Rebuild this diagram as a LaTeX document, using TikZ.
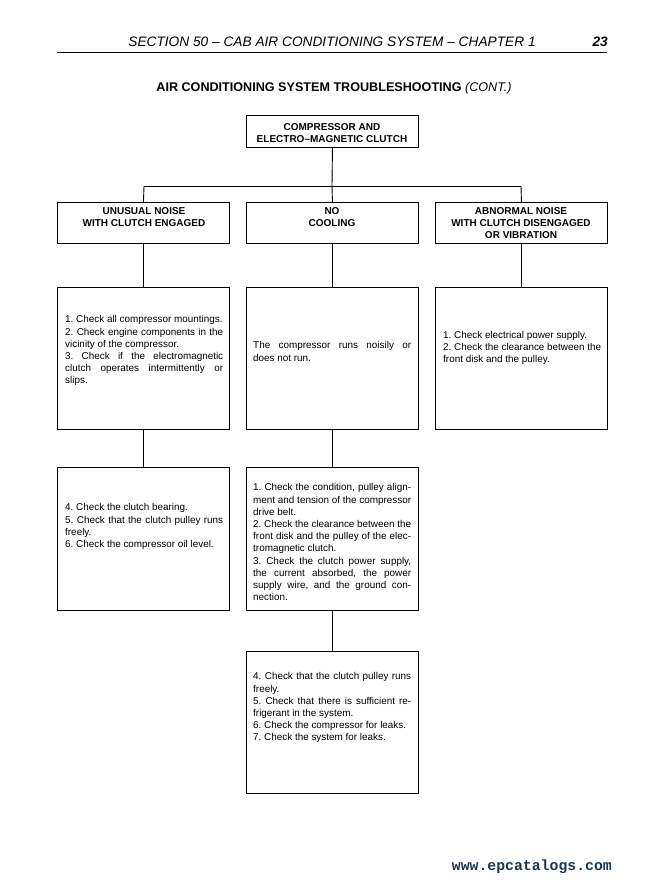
\documentclass[tikz,border=0pt]{standalone}
\usepackage{fontspec}
\setmainfont{Liberation Sans}
\setmonofont{Liberation Mono}
\definecolor{footblue}{HTML}{1B3556}
\begin{document}
\frenchspacing
\begin{tikzpicture}[x=1pt,y=-1pt,
  box/.style={draw, line width=0.9pt, inner sep=0pt, anchor=north west, minimum width=172pt},
  headtxt/.style={font=\fontsize{10}{12}\selectfont\bfseries, align=center, inner sep=0pt, anchor=north},
  bodytxt/.style={font=\fontsize{9.9}{12.2}\selectfont\frenchspacing, text width=158pt, align=justify, inner sep=0pt, anchor=north west},
  conn/.style={line width=0.9pt}]
\useasboundingbox (0,0) rectangle (663,882);
% page header
\node[font=\fontsize{13.7}{16}\selectfont\itshape, inner sep=0pt, anchor=base] (sec) at (332,47) {SECTION 50 – CAB AIR CONDITIONING SYSTEM – CHAPTER 1};
\node[font=\fontsize{13.7}{16}\selectfont\bfseries\itshape, inner sep=0pt, anchor=base east] (pg) at (608,47) {23};
\coordinate (rl) at (57,52.5);
\coordinate (rr) at (607,52.5);
\draw[line width=1.2pt] (rl) -- (rr);
\node[font=\fontsize{12.6}{15}\selectfont\bfseries, inner sep=0pt, anchor=base] (title) at (334,91.5) {AIR CONDITIONING SYSTEM TROUBLESHOOTING \textmd{\itshape (CONT.)}};
% boxes
\node[box, minimum height=32pt] (top) at (246,115) {};
\node[box, minimum height=41pt] (h1) at (57,202) {};
\node[box, minimum height=41pt] (h2) at (246,202) {};
\node[box, minimum height=41pt] (h3) at (435,202) {};
\node[box, minimum height=142pt] (b1) at (57,287) {};
\node[box, minimum height=142pt] (b2) at (246,287) {};
\node[box, minimum height=142pt] (b3) at (435,287) {};
\node[box, minimum height=143pt] (c1) at (57,467) {};
\node[box, minimum height=143pt] (c2) at (246,467) {};
\node[box, minimum height=142pt] (d2) at (246,651) {};
% connectors
\coordinate (j) at (332,186);
\coordinate (jl) at (144,186);
\coordinate (jr) at (521,186);
\draw[conn] (top.south) -- (j);
\draw[conn] (jl) -- (jr);
\draw[conn] (jl) -- (h1.north);
\draw[conn] (j) -- (h2.north);
\draw[conn] (jr) -- (h3.north);
\draw[conn] (h1.south) -- (b1.north);
\draw[conn] (h2.south) -- (b2.north);
\draw[conn] (h3.south) -- (b3.north);
\draw[conn] (b1.south) -- (c1.north);
\draw[conn] (b2.south) -- (c2.north);
\draw[conn] (c2.south) -- (d2.north);
% header texts
\node[headtxt] (ttop) at (332,123.4) {COMPRESSOR AND\\ELECTRO–MAGNETIC CLUTCH};
\node[headtxt] (th1) at (144,207.4) {UNUSUAL NOISE\\WITH CLUTCH ENGAGED};
\node[headtxt] (th2) at (332,207.4) {NO\\COOLING};
\node[headtxt] (th3) at (521,207.4) {ABNORMAL NOISE\\WITH CLUTCH DISENGAGED\\OR VIBRATION};
% body texts
\node[bodytxt] (tb1) at (65,315.5) {1. Check all compressor mountings.\\
2. Check engine components in the\linebreak vicinity of the compressor.\\
3. Check if the electromagnetic\linebreak clutch operates intermittently or\linebreak slips.};
\node[bodytxt] (tb2) at (253,341.5) {The compressor runs noisily or\linebreak does not run.};
\node[bodytxt] (tb3) at (443,331) {1. Check electrical power supply.\\
2. Check the clearance between the\linebreak front disk and the pulley.};
\node[bodytxt] (tc1) at (65,503.5) {4. Check the clutch bearing.\\
5. Check that the clutch pulley runs\linebreak freely.\\
6. Check the compressor oil level.};
\node[bodytxt] (tc2) at (253,483.5) {1. Check the condition, pulley align-\linebreak ment and tension of the compressor\linebreak drive belt.\\
2. Check the clearance between the\linebreak front disk and the pulley of the elec-\linebreak tromagnetic clutch.\\
3. Check the clutch power supply,\linebreak the current absorbed, the power\linebreak supply wire, and the ground con-\linebreak nection.};
\node[bodytxt] (td2) at (253,672.5) {4. Check that the clutch pulley runs\linebreak freely.\\
5. Check that there is sufficient re-\linebreak frigerant in the system.\\
6. Check the compressor for leaks.\\
7. Check the system for leaks.};
% footer
\node[font=\fontsize{14.8}{17}\selectfont\ttfamily\bfseries, text=footblue, inner sep=0pt, anchor=base east] (foot) at (612,870) {www.epcatalogs.com};
\end{tikzpicture}
\end{document}
